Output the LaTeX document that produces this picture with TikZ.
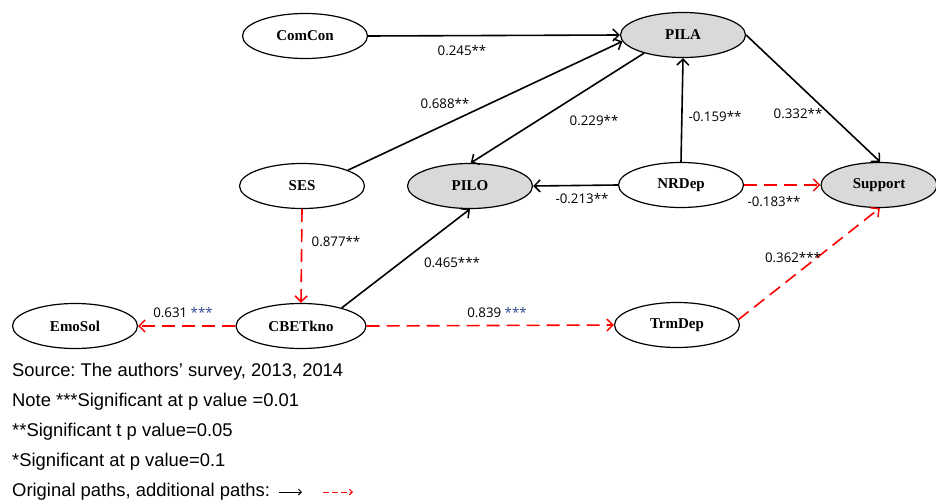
\documentclass[tikz,border=0pt]{standalone}
\usepackage{fontspec}
\setmainfont{Liberation Serif}
\newfontfamily\labfont{Open Sans}
\newfontfamily\notefont{Liberation Sans}
\usetikzlibrary{shapes.geometric,arrows.meta}
\definecolor{nodegray}{RGB}{217,217,217}
\definecolor{starblue}{RGB}{47,70,140}
\frenchspacing
\tikzset{
  var/.style={ellipse, draw=black, line width=1.2pt, fill=white, minimum width=125pt, minimum height=45pt, inner sep=0pt, font=\fontsize{15}{15}\selectfont\bfseries},
  dep/.style={var, fill=nodegray},
  orig/.style={draw=black, line width=1.6pt, -{Straight Barb[length=6pt,width=12pt,line width=1.5pt]}},
  addl/.style={draw=red, line width=1.6pt, dash pattern=on 13pt off 7pt, -{Straight Barb[length=6pt,width=12pt,line width=1.5pt]}},
  coef/.style={font=\labfont\fontsize{13.3}{13.3}\selectfont, inner sep=1pt},
  note/.style={font=\notefont\fontsize{18.4}{18.4}\selectfont, anchor=west, inner sep=0pt},
}
\begin{document}
\begin{tikzpicture}[x=1pt,y=-1pt]
\useasboundingbox (0,0) rectangle (936,500);
% nodes
\node[var] (ComCon) at (305,36) {ComCon};
\node[dep] (PILA) at (683,35) {PILA};
\node[var] (SES) at (302,186) {SES};
\node[dep] (PILO) at (470,186) {PILO};
\node[var] (NRDep) at (681,185) {NRDep};
\node[dep, minimum width=116pt] (Support) at (879,185) {Support};
\node[var] (EmoSol) at (75,326) {EmoSol};
\node[var, minimum width=130pt] (CBETkno) at (301,326) {CBETkno};
\node[var] (TrmDep) at (677,325) {TrmDep};
% original paths
\draw[orig] (ComCon.east) -- (PILA.west);
\draw[orig] (SES.19) -- (PILA.186);
\draw[orig] (PILA.205) -- (PILO.88);
\draw[orig] (NRDep.north) -- (PILA.south);
\draw[orig] (PILA.east) -- (Support.87);
\draw[orig] (NRDep.west) -- (PILO.east);
\draw[orig] (CBETkno.24) -- (PILO.south);
% additional paths
\draw[addl] (NRDep.east) -- (Support.west);
\draw[addl] (SES.south) -- (CBETkno.north);
\draw[addl] (CBETkno.west) -- (EmoSol.east);
\draw[addl] (CBETkno.east) -- (TrmDep.west);
\draw[addl] (TrmDep.5) -- (Support.272);
% coefficients
\node[coef] (c1) at (462,51) {0.245**};
\node[coef] (c2) at (445,104) {0.688**};
\node[coef] (c3) at (594,121) {0.229**};
\node[coef] (c4) at (715,117) {-0.159**};
\node[coef] (c5) at (798,114) {0.332**};
\node[coef] (c6) at (582,199) {-0.213**};
\node[coef] (c7) at (774,202) {-0.183**};
\node[coef] (c8) at (336,242) {0.877**};
\node[coef] (c9) at (452,263) {0.465***};
\node[coef] (c10) at (793,258) {0.362***};
\node[coef] (c11) at (183,313) {0.631 \textcolor{starblue}{***}};
\node[coef] (c12) at (497,313) {0.839 \textcolor{starblue}{***}};
% notes
\node[note] (n1) at (12,372) {Source: The authors’ survey, 2013, 2014};
\node[note] (n2) at (12,402) {Note ***Significant at p value =0.01};
\node[note] (n3) at (12,432) {**Significant t p value=0.05};
\node[note] (n4) at (12,462) {*Significant at p value=0.1};
\node[note] (n5) at (12,492) {Original paths, additional paths:};
\coordinate (la) at (279,492);
\coordinate (lb) at (302,492);
\coordinate (lc) at (323,492);
\coordinate (ld) at (353,492);
\draw[black, line width=0.9pt, -{Straight Barb[length=3pt,width=6pt,line width=0.9pt]}] (la) -- (lb);
\draw[red, line width=0.9pt, dash pattern=on 6pt off 3pt, -{Straight Barb[length=3pt,width=6pt,line width=0.9pt]}] (lc) -- (ld);
\end{tikzpicture}
\end{document}
